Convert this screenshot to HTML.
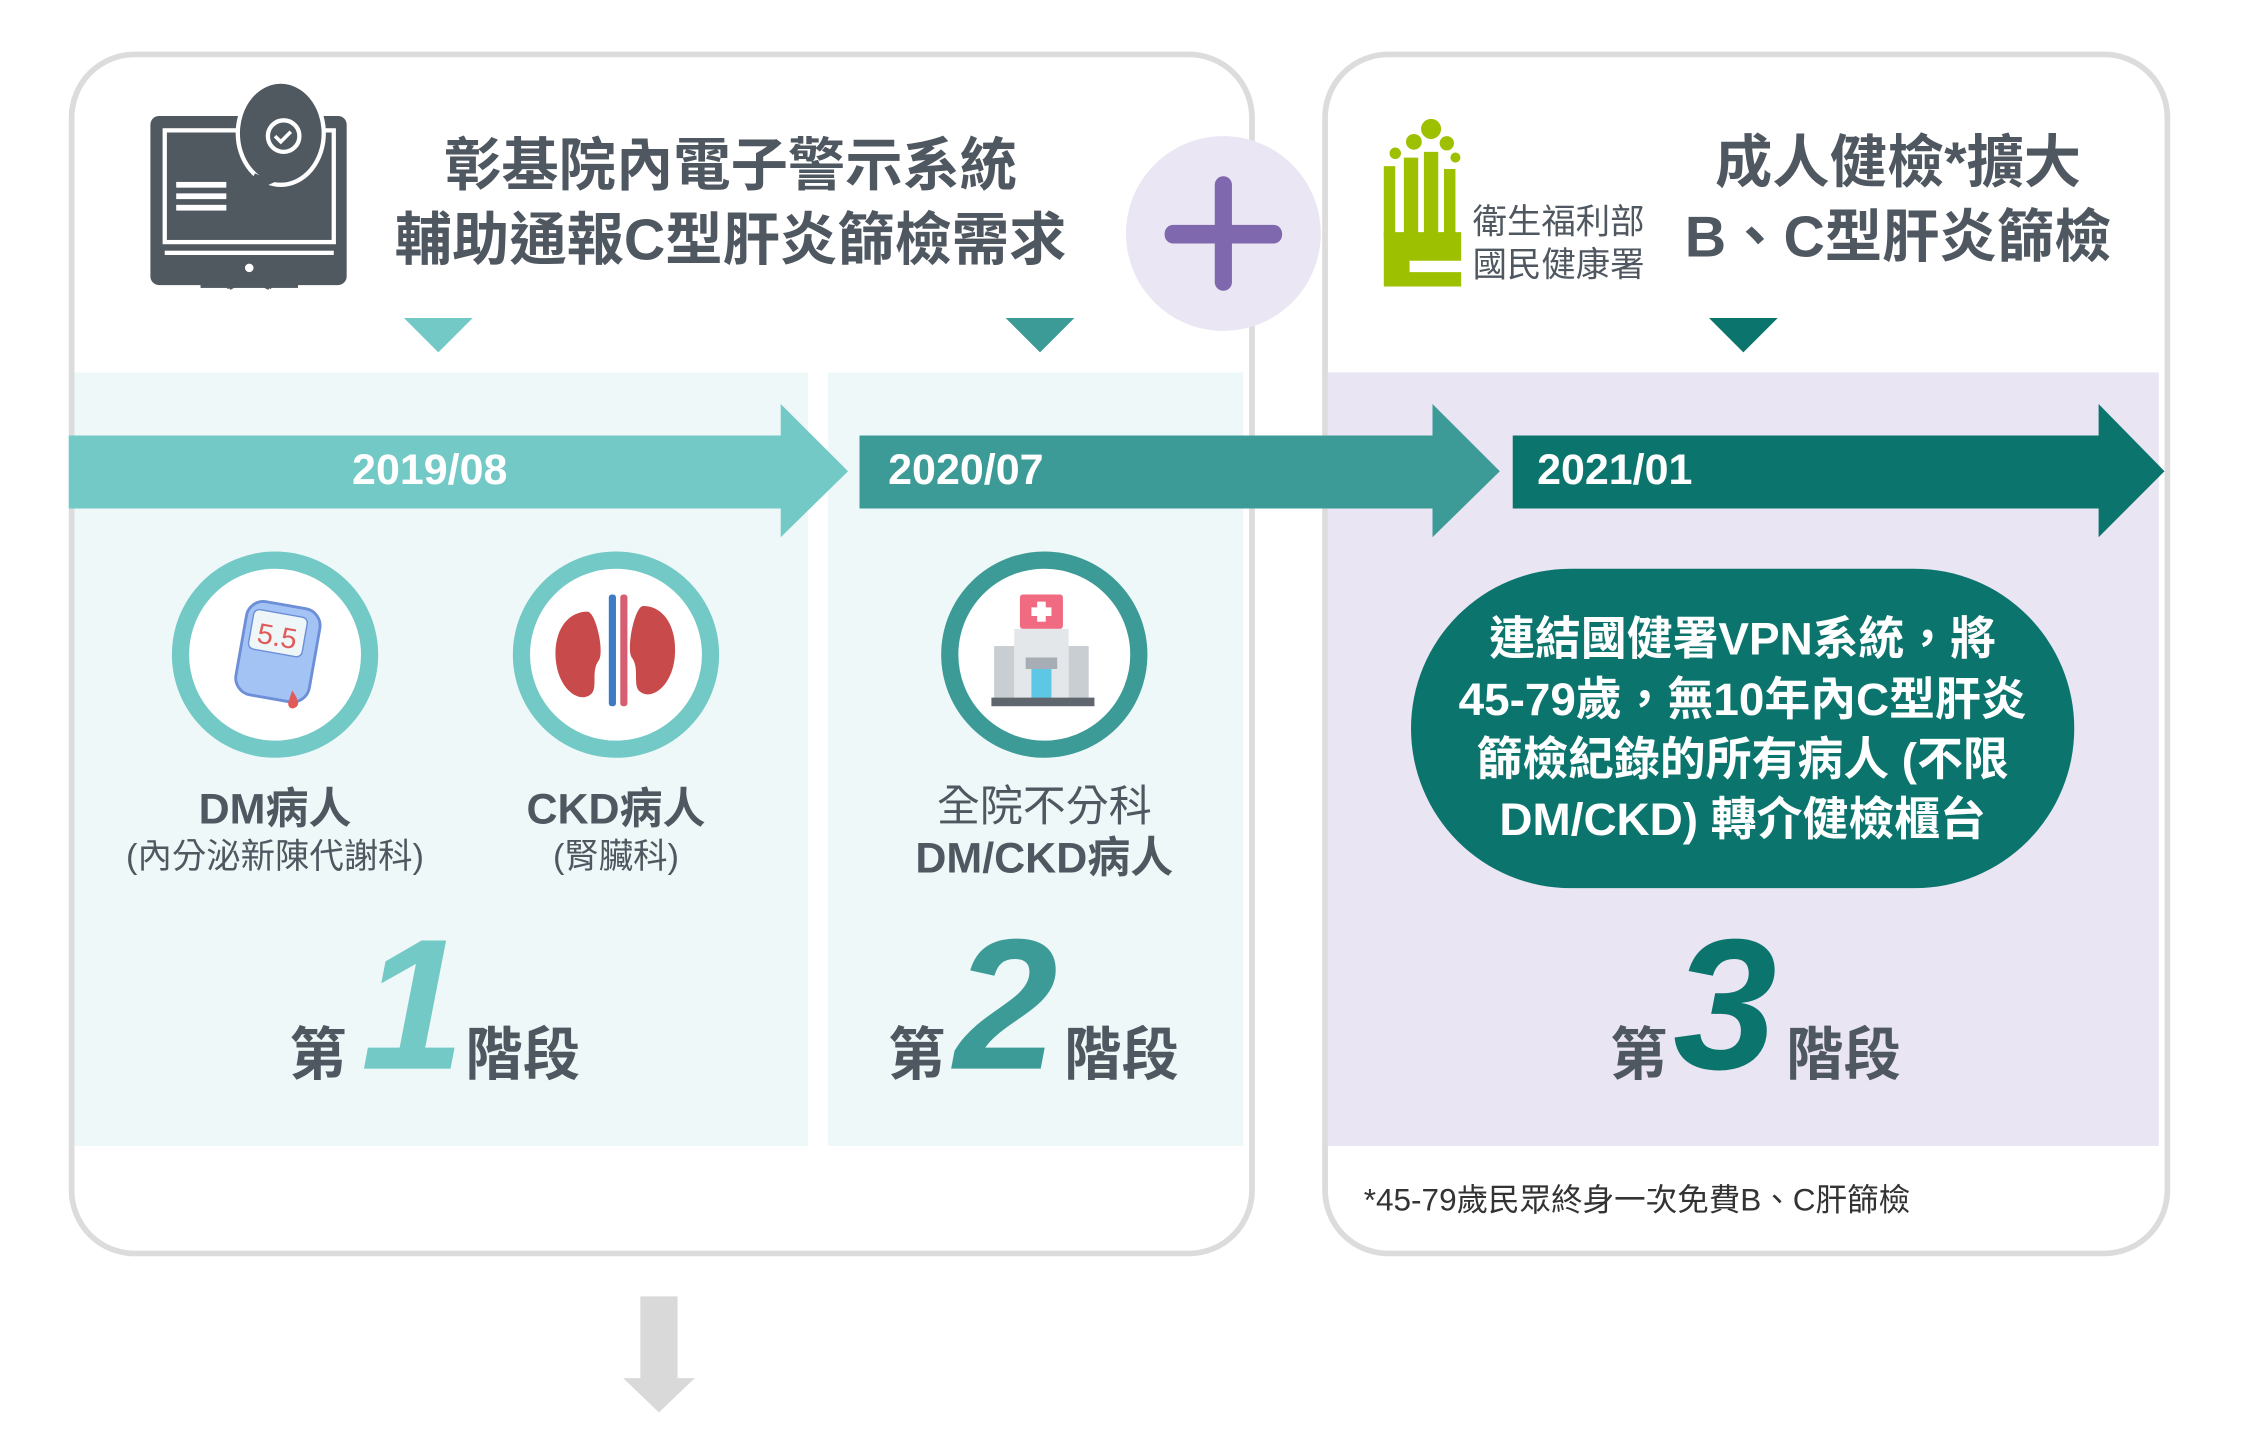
<!DOCTYPE html>
<html><head><meta charset="utf-8">
<style>
html,body{margin:0;padding:0;background:#fff;width:2250px;height:1437px;overflow:hidden}
#w{position:absolute;left:0;top:0;width:1560px;height:996px;transform:scale(1.4325);transform-origin:0 0;font-family:"Liberation Sans","Noto Sans CJK TC",sans-serif;color:#4f5760}
.a{position:absolute}
.c{text-align:center;white-space:nowrap}
</style></head><body><div id="w">
<!-- panels -->
<div class="a" style="left:48px;top:36px;width:820px;height:833px;border:4px solid #dcdcdc;border-radius:46px;background:#fff"></div>
<div class="a" style="left:923px;top:36px;width:584px;height:833px;border:4px solid #dcdcdc;border-radius:46px;background:#fff"></div>
<div class="a" style="left:52px;top:260px;width:512px;height:540px;background:#eef8f8"></div>
<div class="a" style="left:578px;top:260px;width:290px;height:540px;background:#eef8f8"></div>
<div class="a" style="left:927px;top:260px;width:580px;height:540px;background:#e9e5f3"></div>
<!-- plus -->
<div class="a" style="left:786px;top:95px;width:136px;height:136px;border-radius:50%;background:#ebe6f3"></div>
<div class="a" style="left:813px;top:157px;width:82px;height:13px;border-radius:6px;background:#8068ae"></div>
<div class="a" style="left:848px;top:123px;width:12px;height:80px;border-radius:6px;background:#8068ae"></div>
<!-- monitor icon -->
<svg class="a" style="left:100px;top:55px" width="150" height="150" viewBox="0 0 150 150">
<rect x="5" y="26" width="137" height="118" rx="6" fill="#505860"/>
<rect x="15" y="36" width="118" height="78" fill="none" stroke="#fff" stroke-width="3"/>
<rect x="15" y="120" width="118" height="3" fill="#fff"/>
<rect x="23" y="72" width="35" height="4" fill="#fff"/><rect x="23" y="80" width="35" height="4" fill="#fff"/><rect x="23" y="88" width="35" height="4" fill="#fff"/>
<circle cx="74" cy="132" r="3" fill="#fff"/>
<path d="M58 145 L64 142 M90 145 L84 142" stroke="#505860" stroke-width="4"/>
<path d="M64 144 L60 146 M84 144 L88 146" stroke="#505860" stroke-width="3"/>
<rect x="40" y="143" width="68" height="3" fill="#505860"/>
<ellipse cx="96" cy="38" rx="30" ry="36" fill="#505860" stroke="#fff" stroke-width="3"/>
<path d="M78 66 L70 82 L92 72Z" fill="#505860"/>
<circle cx="98" cy="40" r="11" fill="none" stroke="#fff" stroke-width="3"/>
<path d="M92 40 l4 4 l7-7" stroke="#fff" stroke-width="2.5" fill="none"/>
</svg>
<div class="a c" style="left:250px;top:90px;width:520px;font-size:40px;font-weight:bold;line-height:52px">彰基院內電子警示系統<br>輔助通報C型肝炎篩檢需求</div>
<!-- logo -->
<svg class="a" style="left:962px;top:80px" width="70" height="120" viewBox="0 0 70 120">
<g fill="#9dc100">
<circle cx="37" cy="10" r="7"/><circle cx="25" cy="19" r="5.5"/><circle cx="48" cy="20" r="5"/><circle cx="12" cy="27" r="4"/><circle cx="54" cy="30" r="3.5"/>
<path d="M4 36h8v50h-8z M18 30h10v56h-10z M32 26h10v60h-10z M46 38h8v48h-8z"/>
<path d="M4 82h54v20H22v8h36v12H4z"/>
</g></svg>
<div class="a" style="left:1028px;top:141px;font-size:24px;line-height:30px;color:#4f5760">衛生福利部<br>國民健康署</div>
<div class="a c" style="left:1165px;top:88px;width:320px;font-size:40px;font-weight:bold;line-height:52px">成人健檢*擴大<br>B、C型肝炎篩檢</div>
<!-- triangles -->
<div class="a" style="left:282px;top:222px;border-left:24px solid transparent;border-right:24px solid transparent;border-top:24px solid #72c9c6"></div>
<div class="a" style="left:702px;top:222px;border-left:24px solid transparent;border-right:24px solid transparent;border-top:24px solid #3d9b97"></div>
<div class="a" style="left:1193px;top:222px;border-left:24px solid transparent;border-right:24px solid transparent;border-top:24px solid #0b746d"></div>
<!-- arrows -->
<svg class="a" style="left:0;top:0" width="1560" height="400">
<path d="M48 304H545V282L592 329L545 375V355H48Z" fill="#72c9c6"/>
<path d="M600 304H1000V282L1047 329L1000 375V355H600Z" fill="#3d9b97"/>
<path d="M1056 304H1465V282L1511 329L1465 375V355H1056Z" fill="#0b746d"/>
</svg>
<div class="a c" style="left:200px;top:312px;width:200px;font-size:30px;font-weight:bold;color:#fff">2019/08</div>
<div class="a" style="left:620px;top:312px;font-size:30px;font-weight:bold;color:#fff">2020/07</div>
<div class="a" style="left:1073px;top:312px;font-size:30px;font-weight:bold;color:#fff">2021/01</div>
<!-- circles -->
<div class="a" style="left:120px;top:385px;width:120px;height:120px;border:12px solid #72c9c6;border-radius:50%;background:#fff"></div>
<div class="a" style="left:358px;top:385px;width:120px;height:120px;border:12px solid #72c9c6;border-radius:50%;background:#fff"></div>
<div class="a" style="left:657px;top:385px;width:120px;height:120px;border:12px solid #3d9b97;border-radius:50%;background:#fff"></div>
<svg class="a" style="left:160px;top:418px" width="70" height="84" viewBox="0 0 70 84">
<rect x="8" y="4" width="52" height="66" rx="12" fill="#a3c3f5" stroke="#6d8fd8" stroke-width="2" transform="rotate(10 34 37)"/>
<rect x="15" y="10" width="38" height="28" rx="4" fill="#eef6f8" stroke="#6d8fd8" transform="rotate(10 34 24)"/>
<text x="20" y="33" font-size="20" fill="#e05a5a" font-family="Liberation Sans" transform="rotate(10 34 24)">5.5</text>
<path d="M44 64c4 6 6 10 2 12c-4 2-6-2-4-6z" fill="#e05a5a"/>
</svg>
<svg class="a" style="left:385px;top:413px" width="90" height="86" viewBox="0 0 90 86">
<path d="M25 14c-14 0-24 14-22 34c2 20 16 30 24 24c6-4 0-16 6-24c4-6-2-34-8-34z" fill="#c94a4a"/>
<path d="M64 10c14 0 24 14 22 36c-2 20-16 30-24 24c-6-4 0-16-6-24c-4-6 2-36 8-36z" fill="#c94a4a"/>
<rect x="40" y="2" width="5" height="78" rx="2" fill="#3f7bc4"/><rect x="48" y="2" width="5" height="78" rx="2" fill="#d65e72"/>
</svg>
<svg class="a" style="left:692px;top:415px" width="74" height="80" viewBox="0 0 74 80">
<rect x="20" y="0" width="30" height="24" rx="2" fill="#f06a82"/><rect x="32" y="5" width="6" height="14" fill="#fff"/><rect x="28" y="9" width="14" height="6" fill="#fff"/>
<rect x="16" y="24" width="38" height="50" fill="#e4e7ea"/><rect x="2" y="36" width="14" height="38" fill="#c9ced3"/><rect x="54" y="36" width="14" height="38" fill="#c9ced3"/>
<rect x="24" y="44" width="22" height="8" fill="#a7adb4"/><rect x="28" y="52" width="14" height="22" fill="#5fc7e6"/>
<rect x="0" y="72" width="72" height="6" fill="#5f666d"/>
</svg>
<!-- labels -->
<div class="a c" style="left:92px;top:540px;width:200px;font-size:30px;font-weight:bold">DM病人</div>
<div class="a c" style="left:62px;top:578px;width:260px;font-size:24px">(內分泌新陳代謝科)</div>
<div class="a c" style="left:330px;top:540px;width:200px;font-size:30px;font-weight:bold">CKD病人</div>
<div class="a c" style="left:330px;top:578px;width:200px;font-size:24px">(腎臟科)</div>
<div class="a c" style="left:600px;top:538px;width:258px;font-size:30px">全院不分科</div>
<div class="a c" style="left:600px;top:574px;width:258px;font-size:30px;font-weight:bold">DM/CKD病人</div>
<!-- stages -->
<div class="a" style="left:202px;top:704px;font-size:40px;font-weight:bold">第</div>
<div class="a" style="left:252px;top:636px;font-size:130px;font-weight:bold;font-style:italic;color:#72c9c6;line-height:130px">1</div>
<div class="a" style="left:325px;top:704px;font-size:40px;font-weight:bold">階段</div>
<div class="a" style="left:620px;top:704px;font-size:40px;font-weight:bold">第</div>
<div class="a" style="left:666px;top:636px;font-size:130px;font-weight:bold;font-style:italic;color:#3d9b97;line-height:130px">2</div>
<div class="a" style="left:743px;top:704px;font-size:40px;font-weight:bold">階段</div>
<div class="a" style="left:1124px;top:704px;font-size:40px;font-weight:bold">第</div>
<div class="a" style="left:1168px;top:636px;font-size:130px;font-weight:bold;font-style:italic;color:#0b746d;line-height:130px">3</div>
<div class="a" style="left:1247px;top:704px;font-size:40px;font-weight:bold">階段</div>
<!-- pill -->
<div class="a c" style="left:985px;top:397px;width:463px;height:223px;border-radius:112px;background:#0b746d;color:#fff;font-size:32px;font-weight:bold;line-height:42px;box-sizing:border-box;padding-top:28px">連結國健署VPN系統，將<br>45-79歲，無10年內C型肝炎<br>篩檢紀錄的所有病人 (不限<br>DM/CKD) 轉介健檢櫃台</div>
<div class="a" style="left:952px;top:820px;font-size:22px;color:#333">*45-79歲民眾終身一次免費B、C肝篩檢</div>
<!-- down arrow -->
<div class="a" style="left:447px;top:905px;width:26px;height:58px;background:#d9d9d9"></div>
<div class="a" style="left:435px;top:962px;border-left:25px solid transparent;border-right:25px solid transparent;border-top:24px solid #d9d9d9"></div>
</div></body></html>
